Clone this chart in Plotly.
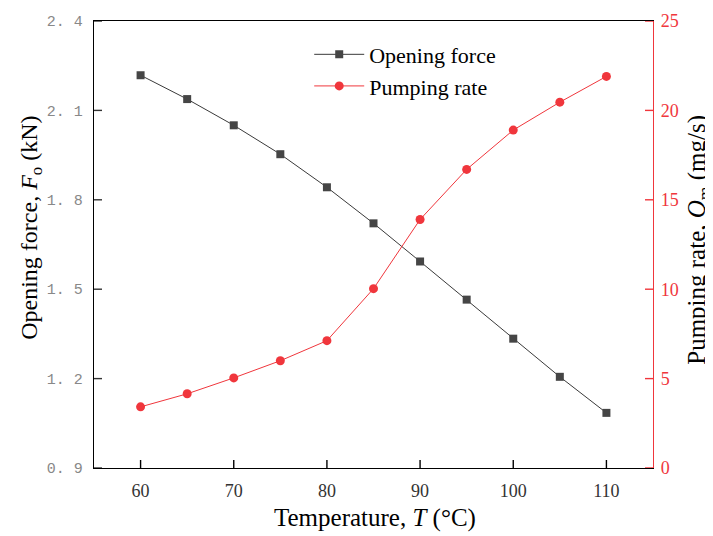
import plotly.graph_objects as go

temperature = [60, 65, 70, 75, 80, 85, 90, 95, 100, 105, 110]
opening_force = [2.218, 2.138, 2.050, 1.953, 1.842, 1.721, 1.593, 1.465, 1.334, 1.206, 1.085]
pumping_rate = [3.42, 4.15, 5.04, 6.00, 7.12, 10.03, 13.90, 16.70, 18.90, 20.46, 21.90]

left_ticks = [0.9, 1.2, 1.5, 1.8, 2.1, 2.4]
left_labels = ["0. 9", "1. 2", "1. 5", "1. 8", "2. 1", "2. 4"]
right_ticks = [0, 5, 10, 15, 20, 25]
x_ticks = [60, 70, 80, 90, 100, 110]

X_RANGE = [55, 115]
Y_RANGE = [0.9, 2.4]
Y2_RANGE = [0, 25]

RED = "#f0363c"
serif = "Liberation Serif, Times New Roman, serif"

fig = go.Figure()
fig.add_trace(go.Scatter(
    x=temperature, y=opening_force, name="Opening force",
    mode="lines+markers",
    line=dict(color="#3a3a3a", width=1),
    marker=dict(symbol="square", size=8, color="#454545"),
))
fig.add_trace(go.Scatter(
    x=temperature, y=pumping_rate, name="Pumping rate", yaxis="y2",
    mode="lines+markers",
    line=dict(color=RED, width=1),
    marker=dict(symbol="circle", size=9, color=RED),
))

# inward tick marks drawn as one-sided error bars from each axis (lengths ~8 px)
x_tick_len = (Y_RANGE[1] - Y_RANGE[0]) * 8 / 447
y_tick_len = (X_RANGE[1] - X_RANGE[0]) * 8 / 559
fig.add_trace(go.Scatter(
    x=x_ticks, y=[Y_RANGE[0]] * len(x_ticks), mode="markers", showlegend=False,
    hoverinfo="skip", marker=dict(size=1, opacity=0), cliponaxis=False,
    error_y=dict(type="data", symmetric=False, array=[x_tick_len] * len(x_ticks),
                 arrayminus=[0] * len(x_ticks), width=0, thickness=1.4, color="black"),
))
fig.add_trace(go.Scatter(
    x=[X_RANGE[0]] * len(left_ticks), y=left_ticks, mode="markers", showlegend=False,
    hoverinfo="skip", marker=dict(size=1, opacity=0), cliponaxis=False,
    error_x=dict(type="data", symmetric=False, array=[y_tick_len] * len(left_ticks),
                 arrayminus=[0] * len(left_ticks), width=0, thickness=1.4, color="#333333"),
))
fig.add_trace(go.Scatter(
    x=[X_RANGE[1]] * len(right_ticks), y=right_ticks, yaxis="y2", mode="markers", showlegend=False,
    hoverinfo="skip", marker=dict(size=1, opacity=0), cliponaxis=False,
    error_x=dict(type="data", symmetric=False, array=[0] * len(right_ticks),
                 arrayminus=[y_tick_len] * len(right_ticks), width=0, thickness=1.4, color=RED),
))

# page body has an 8px margin, so the figure is shifted by 8px; compensate here
fig.update_layout(
    width=705, height=528,
    margin=dict(l=86, r=60, t=13, b=68, autoexpand=False),
    plot_bgcolor="white", paper_bgcolor="white",
    font=dict(family=serif, size=16, color="black"),
    showlegend=True,
    legend=dict(x=0.385, y=0.972, xanchor="left", yanchor="top",
                bgcolor="rgba(0,0,0,0)", font=dict(family=serif, size=22, color="black"),
                itemwidth=50, tracegroupgap=0),
    xaxis=dict(
        range=X_RANGE, tickmode="array", tickvals=x_ticks, ticks="", 
        showline=True, linecolor="black", linewidth=1.3,
        mirror=True, showgrid=False, zeroline=False, automargin=False,
        ticklabelstandoff=6,
        tickfont=dict(family=serif, size=18, color="#333333"),
    ),
    yaxis=dict(
        range=Y_RANGE, tickmode="array", tickvals=left_ticks, ticktext=left_labels,
        ticks="", automargin=False,
        showline=True, linecolor="black", linewidth=1.3,
        showgrid=False, zeroline=False, ticklabelstandoff=7,
        tickfont=dict(family="Liberation Mono, monospace", size=15, color="#888888"),
    ),
    yaxis2=dict(
        range=Y2_RANGE, tickmode="array", tickvals=right_ticks, overlaying="y", side="right",
        ticks="", automargin=False,
        showline=True, linecolor=RED, linewidth=1.3,
        showgrid=False, zeroline=False, ticklabelstandoff=3,
        tickfont=dict(family=serif, size=18, color=RED),
    ),
    annotations=[
        dict(text="Temperature, <i>T</i> (°C)", xref="paper", yref="paper",
             x=0.503, y=-0.112, xanchor="center", yanchor="middle", showarrow=False,
             font=dict(family=serif, size=25, color="black")),
        dict(text="Opening force, <i>F</i><sub>o</sub> (kN)", xref="paper", yref="paper",
             x=-0.113, y=0.537, xanchor="center", yanchor="middle", textangle=-90, showarrow=False,
             font=dict(family=serif, size=24, color="black")),
        dict(text="Pumping rate, <i>Q</i><sub>m</sub> (mg/s)", xref="paper", yref="paper",
             x=1.08, y=0.51, xanchor="center", yanchor="middle", textangle=-90, showarrow=False,
             font=dict(family=serif, size=25, color="black")),
    ],
)

fig.write_html("out.html")
